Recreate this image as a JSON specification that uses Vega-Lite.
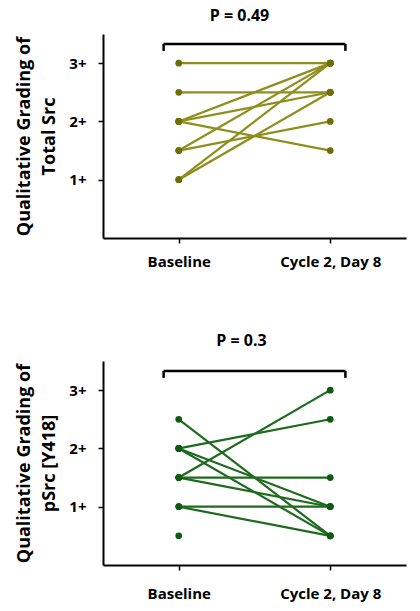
{
  "$schema": "https://vega.github.io/schema/vega-lite/v6.json",
  "background": "white",
  "padding": {"left": 15, "top": 8, "right": 5, "bottom": 5},
  "spacing": 64,
  "config": {
    "view": {"stroke": null},
    "font": "Open Sans",
    "axis": {
      "grid": false,
      "domainColor": "black",
      "domainWidth": 2,
      "tickColor": "black",
      "tickWidth": 1.5,
      "tickSize": 5,
      "labelColor": "black",
      "labelFont": "Open Sans",
      "labelFontWeight": "bold",
      "labelFontSize": 15,
      "titleColor": "black",
      "titleFont": "Open Sans",
      "titleFontWeight": "bold",
      "titleFontSize": 18,
      "titleLineHeight": 25
    },
    "title": {"font": "Open Sans", "fontSize": 16, "fontWeight": "bold", "color": "black"}
  },
  "datasets": {
    "top": [
      {"id": 1, "t": 0, "grade": 3}, {"id": 1, "t": 1, "grade": 3},
      {"id": 2, "t": 0, "grade": 2.5}, {"id": 2, "t": 1, "grade": 2.5},
      {"id": 3, "t": 0, "grade": 2}, {"id": 3, "t": 1, "grade": 3},
      {"id": 4, "t": 0, "grade": 2}, {"id": 4, "t": 1, "grade": 2.5},
      {"id": 5, "t": 0, "grade": 2}, {"id": 5, "t": 1, "grade": 1.5},
      {"id": 6, "t": 0, "grade": 1.5}, {"id": 6, "t": 1, "grade": 3},
      {"id": 7, "t": 0, "grade": 1.5}, {"id": 7, "t": 1, "grade": 2},
      {"id": 8, "t": 0, "grade": 1}, {"id": 8, "t": 1, "grade": 3},
      {"id": 9, "t": 0, "grade": 1}, {"id": 9, "t": 1, "grade": 2.5}
    ],
    "bottom": [
      {"id": 1, "t": 0, "grade": 2.5}, {"id": 1, "t": 1, "grade": 0.5},
      {"id": 2, "t": 0, "grade": 2}, {"id": 2, "t": 1, "grade": 2.5},
      {"id": 3, "t": 0, "grade": 2}, {"id": 3, "t": 1, "grade": 1},
      {"id": 4, "t": 0, "grade": 2}, {"id": 4, "t": 1, "grade": 0.5},
      {"id": 5, "t": 0, "grade": 1.5}, {"id": 5, "t": 1, "grade": 3},
      {"id": 6, "t": 0, "grade": 1.5}, {"id": 6, "t": 1, "grade": 1.5},
      {"id": 7, "t": 0, "grade": 1.5}, {"id": 7, "t": 1, "grade": 1},
      {"id": 8, "t": 0, "grade": 1}, {"id": 8, "t": 1, "grade": 1},
      {"id": 9, "t": 0, "grade": 1}, {"id": 9, "t": 1, "grade": 0.5},
      {"id": 10, "t": 0, "grade": 0.5}
    ],
    "bracket": [
      {"x": -0.1, "x2": 1.1, "y": 3.33, "y2": 3.33},
      {"x": -0.1, "x2": -0.1, "y": 3.33, "y2": 3.21},
      {"x": 1.1, "x2": 1.1, "y": 3.33, "y2": 3.21}
    ]
  },
  "vconcat": [
    {
      "width": 303,
      "height": 204,
      "title": {"text": "P = 0.49", "dx": -15, "offset": 10},
      "layer": [
        {
          "data": {"name": "bracket"},
          "mark": {"type": "rule", "color": "black", "strokeWidth": 2.5},
          "encoding": {
            "x": {"field": "x", "type": "quantitative", "scale": {"domain": [-0.5, 1.5], "nice": false}},
            "x2": {"field": "x2"},
            "y": {"field": "y", "type": "quantitative", "scale": {"domain": [0, 3.5], "nice": false}},
            "y2": {"field": "y2"}
          }
        },
        {
          "data": {"name": "top"},
          "mark": {"type": "line", "color": "#8e8e1c", "strokeWidth": 2.2},
          "encoding": {
            "x": {"field": "t", "type": "quantitative", "scale": {"domain": [-0.5, 1.5], "nice": false},
              "axis": {"values": [0, 1], "title": null, "labelExpr": "datum.value == 0 ? 'Baseline' : 'Cycle 2, Day 8'", "labelPadding": 11}},
            "y": {"field": "grade", "type": "quantitative", "scale": {"domain": [0, 3.5], "nice": false},
              "axis": {"values": [1, 2, 3], "labelExpr": "datum.value + '+'", "labelPadding": 12, "title": ["Qualitative Grading of", "Total Src"], "titlePadding": 10}},
            "detail": {"field": "id", "type": "nominal"}
          }
        },
        {
          "data": {"name": "top"},
          "mark": {"type": "point", "filled": true, "color": "#6e6e08", "size": 45, "opacity": 1},
          "encoding": {
            "x": {"field": "t", "type": "quantitative"},
            "y": {"field": "grade", "type": "quantitative"}
          }
        }
      ]
    },
    {
      "width": 303,
      "height": 204,
      "title": {"text": "P = 0.3", "dx": -13, "offset": 12},
      "layer": [
        {
          "data": {"name": "bracket"},
          "mark": {"type": "rule", "color": "black", "strokeWidth": 2.5},
          "encoding": {
            "x": {"field": "x", "type": "quantitative", "scale": {"domain": [-0.5, 1.5], "nice": false}},
            "x2": {"field": "x2"},
            "y": {"field": "y", "type": "quantitative", "scale": {"domain": [0, 3.5], "nice": false}},
            "y2": {"field": "y2"}
          }
        },
        {
          "data": {"name": "bottom"},
          "mark": {"type": "line", "color": "#1e6a1e", "strokeWidth": 2.2},
          "encoding": {
            "x": {"field": "t", "type": "quantitative", "scale": {"domain": [-0.5, 1.5], "nice": false},
              "axis": {"values": [0, 1], "title": null, "labelExpr": "datum.value == 0 ? 'Baseline' : 'Cycle 2, Day 8'", "labelPadding": 16}},
            "y": {"field": "grade", "type": "quantitative", "scale": {"domain": [0, 3.5], "nice": false},
              "axis": {"values": [1, 2, 3], "labelExpr": "datum.value + '+'", "labelPadding": 12, "title": ["Qualitative Grading of", "pSrc [Y418]"], "titlePadding": 10}},
            "detail": {"field": "id", "type": "nominal"}
          }
        },
        {
          "data": {"name": "bottom"},
          "mark": {"type": "point", "filled": true, "color": "#0e5a12", "size": 45, "opacity": 1},
          "encoding": {
            "x": {"field": "t", "type": "quantitative"},
            "y": {"field": "grade", "type": "quantitative"}
          }
        }
      ]
    }
  ]
}
